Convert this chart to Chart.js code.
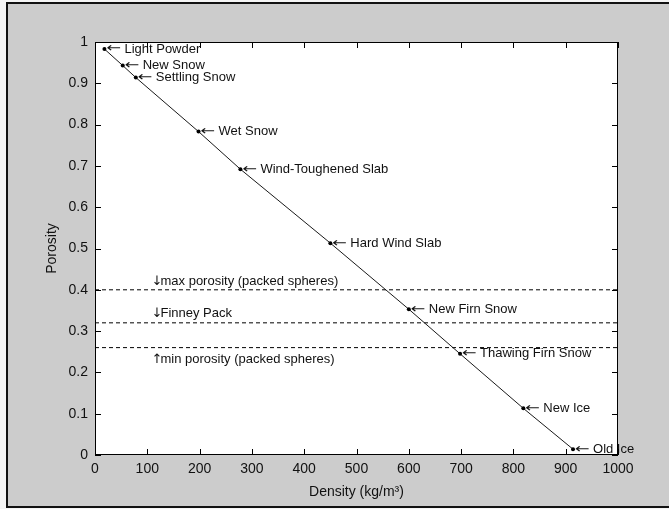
<!DOCTYPE html>
<html>
<head>
<meta charset="utf-8">
<script src="https://cdn.jsdelivr.net/npm/chart.js@4.4.0/dist/chart.umd.min.js"></script>
<style>
  html, body { margin: 0; padding: 0; background: #fff; }
  #wrap { position: relative; width: 669px; height: 509px; }
</style>
</head>
<body>
<div id="wrap"><canvas id="myChart" width="669" height="509"></canvas></div>
<script>
// snow types
const names = ["Light Powder", "New Snow", "Settling Snow", "Wet Snow", "Wind-Toughened Slab",
  "Hard Wind Slab", "New Firn Snow", "Thawing Firn Snow", "New Ice", "Old Ice"];
const density = [18, 53, 78, 198, 278, 450, 600, 698, 819, 914];
const porosity = [0.983, 0.943, 0.914, 0.783, 0.692, 0.513, 0.353, 0.245, 0.113, 0.014];

// reference porosity levels (dashed lines)
const refArrows = ["\u2193", "\u2193", "\u2191"];
const refNames = ["max porosity (packed spheres)", "Finney Pack", "min porosity (packed spheres)"];
const refLevels = [0.40, 0.32, 0.26];
const refTextY = [0.421, 0.342, 0.232];
const refTextX = 108;

const xTicks = ["0", "100", "200", "300", "400", "500", "600", "700", "800", "900", "1000"];
const yTicks = ["0", "0.1", "0.2", "0.3", "0.4", "0.5", "0.6", "0.7", "0.8", "0.9", "1"];

const font = "'Liberation Sans', Arial, sans-serif";
const arrowFont = "13px 'DejaVu Sans', sans-serif";

var points = [];
density.forEach((d, i) => points.push({ x: d, y: porosity[i] }));

var datasets = [{
  data: points,
  showLine: true,
  borderColor: "#1a1a1a",
  borderWidth: 1,
  pointRadius: 2,
  pointBackgroundColor: "#000",
  pointBorderColor: "#000",
  pointBorderWidth: 0,
}];
refLevels.forEach((lv) => {
  datasets.push({
    data: [{ x: 0, y: lv }, { x: 1000, y: lv }],
    showLine: true,
    borderColor: "#000",
    borderWidth: 1,
    borderDash: [4, 3],
    pointRadius: 0,
  });
});

const frame = {
  id: "frame",
  beforeDraw(chart) {
    const c = chart.ctx;
    c.save();
    c.fillStyle = "#f4f4f4";
    c.fillRect(0, 0, 669, 509);
    c.fillStyle = "#cccccc";
    c.fillRect(8, 4, 661, 502);
    c.fillStyle = "#111";
    c.fillRect(6, 2, 663, 2);
    c.fillRect(6, 2, 2, 506);
    c.fillRect(6, 506, 663, 2);
    const a = chart.chartArea;
    c.fillStyle = "#fff";
    c.fillRect(a.left, a.top, a.right - a.left, a.bottom - a.top);
    c.restore();
  },
  afterDatasetsDraw(chart) {
    const c = chart.ctx;
    const xs = chart.scales.x, ys = chart.scales.y;
    const a = chart.chartArea;
    c.save();
    c.fillStyle = "#111";
    c.textBaseline = "middle";
    c.textAlign = "left";
    names.forEach((n, i) => {
      const px = xs.getPixelForValue(density[i]) + 2;
      const py = ys.getPixelForValue(porosity[i]);
      // long MATLAB-style left arrow: stretch the glyph a little
      c.save();
      c.translate(px, py);
      c.scale(1.35, 1);
      c.font = arrowFont;
      c.fillText("\u2190", 0, 0);
      c.restore();
      c.font = "13px " + font;
      c.fillText(n, px + 18, py);
    });
    refNames.forEach((n, i) => {
      const px = xs.getPixelForValue(refTextX);
      const py = ys.getPixelForValue(refTextY[i]);
      c.font = arrowFont;
      c.fillText(refArrows[i], px, py);
      c.font = "13px " + font;
      c.fillText(n, px + 9, py);
    });
    // box and inward ticks
    c.strokeStyle = "#000";
    c.lineWidth = 1;
    c.strokeRect(Math.round(a.left) + 0.5, Math.round(a.top) + 0.5,
      Math.round(a.right - a.left) - 1, Math.round(a.bottom - a.top) - 1);
    c.beginPath();
    xs.ticks.forEach((t) => {
      const px = Math.round(xs.getPixelForValue(t.value)) + 0.5;
      c.moveTo(px, a.bottom); c.lineTo(px, a.bottom - 6);
      c.moveTo(px, a.top); c.lineTo(px, a.top + 6);
    });
    ys.ticks.forEach((t) => {
      const py = Math.round(ys.getPixelForValue(t.value)) + 0.5;
      c.moveTo(a.left, py); c.lineTo(a.left + 6, py);
      c.moveTo(a.right, py); c.lineTo(a.right - 6, py);
    });
    c.stroke();
    c.restore();
  },
};

const ctx = document.getElementById("myChart");
new Chart(ctx, {
  type: "scatter",
  data: { datasets: datasets },
  plugins: [frame],
  options: {
    responsive: false,
    animation: false,
    layout: { padding: { left: 0, right: 51, top: 42, bottom: 0 } },
    plugins: { legend: { display: false }, tooltip: { enabled: false } },
    scales: {
      x: {
        type: "linear",
        min: 0,
        max: 1000,
        afterFit: (s) => { s.height = 54; },
        grid: { display: false, drawTicks: false },
        border: { display: false },
        ticks: {
          stepSize: 100,
          padding: 6,
          color: "#111",
          font: { family: font, size: 14 },
          maxRotation: 0,
          callback: (v, i) => xTicks[i],
        },
        title: {
          display: true,
          text: "Density (kg/m\u00b3)",
          color: "#111",
          font: { family: font, size: 14 },
          padding: { top: 4, bottom: 8 },
        },
      },
      y: {
        type: "linear",
        min: 0,
        max: 1,
        afterFit: (s) => { s.width = 95; },
        grid: { display: false, drawTicks: false },
        border: { display: false },
        ticks: {
          stepSize: 0.1,
          padding: 7,
          color: "#111",
          font: { family: font, size: 14 },
          callback: (v, i) => yTicks[i],
        },
        title: {
          display: true,
          text: "Porosity",
          color: "#111",
          font: { family: font, size: 14 },
          padding: { top: 44, bottom: 0 },
        },
      },
    },
  },
});
</script>
</body>
</html>
